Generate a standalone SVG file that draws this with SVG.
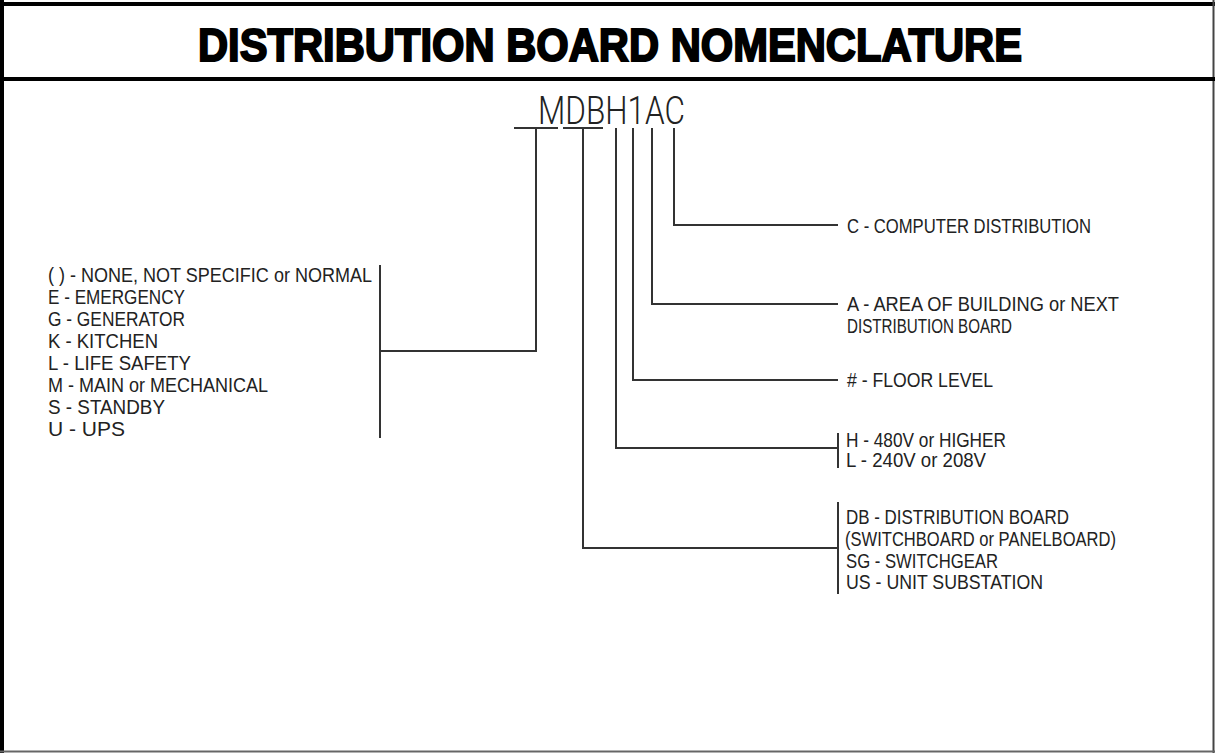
<svg xmlns="http://www.w3.org/2000/svg" width="1215" height="753" viewBox="0 0 1215 753">
  <style>
    .lbl { font-family: "Liberation Sans", Arial, sans-serif; font-size: 20px; fill: #222; }
    .conn { fill: none; stroke: #333; stroke-width: 2; }
    .title { font-family: "Liberation Sans", Arial, sans-serif; font-weight: bold; font-size: 46px; fill: #000; stroke: #000; stroke-width: 2; }
    .code { font-family: Roboto, "Liberation Sans", sans-serif; font-weight: 300; font-size: 38px; fill: #222; }
  </style>
  <rect x="0" y="0" width="1215" height="753" fill="#fff"/>
  <g id="frame">
    <line x1="2" y1="0" x2="2" y2="753" stroke="#000" stroke-width="4"/>
    <line x1="0" y1="4" x2="1215" y2="4" stroke="#000" stroke-width="4"/>
    <line x1="1213.5" y1="0" x2="1213.5" y2="753" stroke="#444" stroke-width="2"/>
    <line x1="0" y1="751.5" x2="1215" y2="751.5" stroke="#666" stroke-width="2"/>
    <line x1="0" y1="79" x2="1215" y2="79" stroke="#000" stroke-width="4"/>
  </g>
  <g id="title">
    <text class="title" x="198" y="61" textLength="824" lengthAdjust="spacingAndGlyphs">DISTRIBUTION BOARD NOMENCLATURE</text>
  </g>
  <g id="code">
    <text class="code" x="538" y="124" textLength="147" lengthAdjust="spacingAndGlyphs">MDBH1AC</text>
  </g>
  <g id="connectors">
    <path class="conn" d="M514,128 H558"/>
    <path class="conn" d="M563,128 H603"/>
    <path class="conn" d="M536,128 V351 H380"/>
    <path class="conn" d="M380,265 V438"/>
    <path class="conn" d="M583,128 V548 H838"/>
    <path class="conn" d="M838,502 V594"/>
    <path class="conn" d="M616,128 V448 H838"/>
    <path class="conn" d="M838,433 V468"/>
    <path class="conn" d="M633,128 V380 H838"/>
    <path class="conn" d="M652,128 V304 H838"/>
    <path class="conn" d="M674,128 V225 H838"/>
  </g>
  <g id="prefix-list">
    <text class="lbl" x="48" y="282" textLength="324" lengthAdjust="spacingAndGlyphs">( ) - NONE, NOT SPECIFIC or NORMAL</text>
    <text class="lbl" x="48" y="304" textLength="137" lengthAdjust="spacingAndGlyphs">E - EMERGENCY</text>
    <text class="lbl" x="48" y="326" textLength="137" lengthAdjust="spacingAndGlyphs">G - GENERATOR</text>
    <text class="lbl" x="48" y="348" textLength="110" lengthAdjust="spacingAndGlyphs">K - KITCHEN</text>
    <text class="lbl" x="48" y="370" textLength="143" lengthAdjust="spacingAndGlyphs">L - LIFE SAFETY</text>
    <text class="lbl" x="48" y="392" textLength="220" lengthAdjust="spacingAndGlyphs">M - MAIN or MECHANICAL</text>
    <text class="lbl" x="48" y="414" textLength="117" lengthAdjust="spacingAndGlyphs">S - STANDBY</text>
    <text class="lbl" x="48" y="436" textLength="77" lengthAdjust="spacingAndGlyphs">U - UPS</text>
  </g>
  <g id="computer">
    <text class="lbl" x="847" y="233" textLength="244" lengthAdjust="spacingAndGlyphs">C - COMPUTER DISTRIBUTION</text>
  </g>
  <g id="area">
    <text class="lbl" x="847" y="311" textLength="272" lengthAdjust="spacingAndGlyphs">A - AREA OF BUILDING or NEXT</text>
    <text class="lbl" x="847" y="333" textLength="165" lengthAdjust="spacingAndGlyphs">DISTRIBUTION BOARD</text>
  </g>
  <g id="floor">
    <text class="lbl" x="847" y="387" textLength="146" lengthAdjust="spacingAndGlyphs"># - FLOOR LEVEL</text>
  </g>
  <g id="voltage">
    <text class="lbl" x="846" y="447" textLength="160" lengthAdjust="spacingAndGlyphs">H - 480V or HIGHER</text>
    <text class="lbl" x="846" y="467" textLength="140" lengthAdjust="spacingAndGlyphs">L - 240V or 208V</text>
  </g>
  <g id="board-type">
    <text class="lbl" x="846" y="524" textLength="223" lengthAdjust="spacingAndGlyphs">DB - DISTRIBUTION BOARD</text>
    <text class="lbl" x="845" y="546" textLength="271" lengthAdjust="spacingAndGlyphs">(SWITCHBOARD or PANELBOARD)</text>
    <text class="lbl" x="846" y="568" textLength="152" lengthAdjust="spacingAndGlyphs">SG - SWITCHGEAR</text>
    <text class="lbl" x="846" y="589" textLength="197" lengthAdjust="spacingAndGlyphs">US - UNIT SUBSTATION</text>
  </g>
</svg>
